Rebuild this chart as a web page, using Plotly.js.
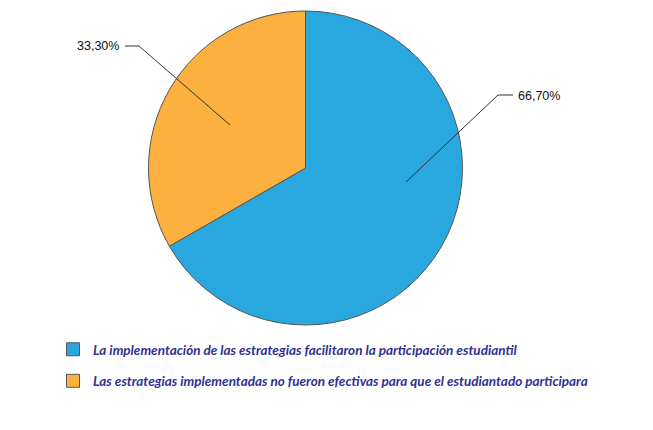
<!DOCTYPE html>
<html>
<head>
<meta charset="utf-8">
<script src="https://cdn.plot.ly/plotly-3.0.1.min.js"></script>
<style>html,body{margin:0;padding:0;background:#fff;}#chart{width:653px;height:430px;}</style>
</head>
<body>
<div id="chart"></div>
<script>
// ---- data ----
var categories = [
  "La implementación de las estrategias facilitaron la participación estudiantil",
  "Las estrategias implementadas no fueron efectivas para que el estudiantado participara"
];
var values = [66.7, 33.3];
var valueLabels = ["66,70%", "33,30%"];
var colors = ["#29a8e0", "#fbb040"];

// ---- layout helpers (pixel -> paper) ----
var W = 653, H = 430;
function px(x) { return x / W; }
function py(y) { return 1 - y / H; }

// label/leader positions (layout, in pixels)
var leaders = [
  { pts: [[406, 182], [498, 95], [513, 95]], text: [516, 96], anchor: "left" },
  { pts: [[230, 125], [139, 46], [125, 46]], text: [121, 46], anchor: "right" }
];

var traces = [{
  type: "pie",
  labels: categories,
  values: values,
  sort: false,
  direction: "clockwise",
  rotation: 0,
  marker: { colors: colors, line: { color: "#555555", width: 1 } },
  textinfo: "none",
  hoverinfo: "label+percent",
  showlegend: false,
  domain: { x: [px(148.5), px(462.5)], y: [py(325), py(11)] }
}];

categories.forEach(function (c, i) {
  traces.push({
    type: "scatter",
    mode: "markers",
    x: [null], y: [null],
    name: c,
    legendgroup: "g" + i,
    marker: { symbol: "square", size: 13, color: colors[i], line: { color: "#555555", width: 1 } },
    showlegend: true,
    hoverinfo: "skip"
  });
});

var shapes = leaders.map(function (l) {
  var d = l.pts.map(function (p, k) { return (k ? "L" : "M") + px(p[0]) + "," + py(p[1]); }).join(" ");
  return { type: "path", xref: "paper", yref: "paper", path: d, line: { color: "#333333", width: 1 } };
});

var annotations = leaders.map(function (l, i) {
  return {
    xref: "paper", yref: "paper",
    x: px(l.text[0]), y: py(l.text[1]),
    xanchor: l.anchor, yanchor: "middle",
    text: valueLabels[i], showarrow: false,
    font: { family: "Liberation Sans, Arial, sans-serif", size: 12.5, color: "#111111" }
  };
});

var layout = {
  width: W, height: H,
  margin: { l: 0, r: 0, t: 0, b: 0 },
  paper_bgcolor: "#ffffff",
  plot_bgcolor: "#ffffff",
  xaxis: { visible: false, domain: [0, 1] },
  yaxis: { visible: false, domain: [0, 1] },
  showlegend: true,
  legend: {
    x: px(53), y: py(334), xanchor: "left", yanchor: "top",
    orientation: "v",
    tracegroupgap: 11,
    itemclick: false, itemdoubleclick: false,
    font: { family: "Lato, sans-serif", size: 13.5, color: "#2e3192", style: "italic", weight: "bold" },
    bgcolor: "rgba(0,0,0,0)"
  },
  shapes: shapes,
  annotations: annotations
};

Plotly.newPlot("chart", traces, layout, { displayModeBar: false, staticPlot: true });
</script>
</body>
</html>
